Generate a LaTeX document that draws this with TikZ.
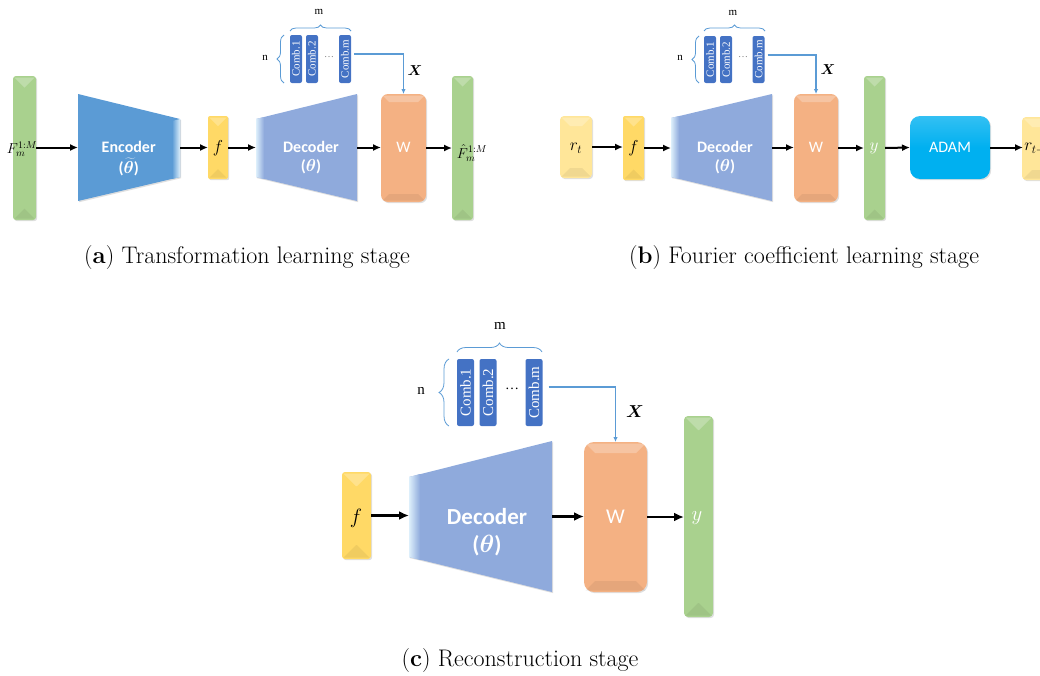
\documentclass[tikz,border=0pt]{standalone}
\usepackage{bm}
\usepackage{fontspec}
\newfontfamily\calib{Carlito}
\newfontfamily\timesf{Liberation Serif}
\usetikzlibrary{arrows.meta,decorations.pathreplacing,shadows,calc}

\definecolor{barG}{HTML}{A9D18E}
\definecolor{fY}{HTML}{FFD966}
\definecolor{rY}{HTML}{FFE699}
\definecolor{encB}{HTML}{5B9BD5}
\definecolor{decB}{HTML}{8FAADC}
\definecolor{wO}{HTML}{F4B183}
\definecolor{adamB}{HTML}{00B0F0}
\definecolor{combB}{HTML}{4472C4}
\definecolor{lineB}{HTML}{5B9BD5}
\definecolor{edgeL}{HTML}{DDEFFB}

\tikzset{
  soft/.style={drop shadow={opacity=0.25,shadow xshift=1.2pt,shadow yshift=-1.2pt}},
  block/.style={soft,inner sep=0pt,outer sep=0pt},
  frame/.style={inner sep=0pt,outer sep=0pt},
  flow/.style={line width=2pt,-{Latex[length=8pt,width=7pt]}},
  bigflow/.style={line width=2.6pt,-{Latex[length=10pt,width=9pt]}},
  xflow/.style={draw=lineB,line width=1.1pt,-{Latex[length=5pt,width=4.5pt]}},
  combbox/.style={fill=combB,rounded corners=2pt,inner sep=0pt},
  combtext/.style={rotate=90,text=white,inner sep=0pt},
  brace/.style={draw=lineB,line width=0.8pt,decorate},
  netlabel/.style={text=white,inner sep=0pt},
  caption/.style={inner sep=0pt,font=\fontsize{24}{28}\selectfont},
}

% light facet along the top edge and a faint dark one along the bottom edge
\newcommand\bevel[2]{%
  \fill[white,opacity=0.25] ($(#1.north west)+(1.5,1.5)$) -- ($(#1.north east)+(-1.5,1.5)$)
      -- ($(#1.north east)+(-#2,#2)$) -- ($(#1.north west)+(#2,#2)$) -- cycle;
  \fill[black,opacity=0.06] ($(#1.south west)+(1.5,-1.5)$) -- ($(#1.south east)+(-1.5,-1.5)$)
      -- ($(#1.south east)+(-#2,-#2)$) -- ($(#1.south west)+(#2,-#2)$) -- cycle;
}

\begin{document}
\begin{tikzpicture}[x=1pt,y=-1pt]
\useasboundingbox (0,0) rectangle (1040,675);
\clip (0,0) rectangle (1040,675);

%% ---------------- (a) transformation learning ----------------
\node[block,fill=barG,rounded corners=3pt,minimum width=23pt,minimum height=144pt] (Fa) at (24.5,148) {};
\bevel{Fa}{11.5}
\node[frame,minimum width=102pt,minimum height=107pt] (enc) at (129,147.5) {};
\fill[encB,soft] (enc.north west) -- ($(enc.north east)+(0,25)$) -- ($(enc.south east)+(0,-24)$) -- (enc.south west) -- cycle;
\shade[left color=encB,right color=edgeL] ($(enc.north east)+(-8,27)$) -- ($(enc.north east)+(0,25)$)
   -- ($(enc.south east)+(0,-24)$) -- ($(enc.south east)+(-8,-22)$) -- cycle;
\node[netlabel,font=\calib\bfseries\fontsize{16}{16}\selectfont] (enct) at (128.7,147) {Encoder};
\node[netlabel,font=\calib\bfseries\fontsize{16}{16}\selectfont] (encp) at (128.7,167) {($\bm{\widetilde{\theta}}$)};

\node[block,fill=fY,rounded corners=2pt,minimum width=20pt,minimum height=63pt] (fa) at (218,147.5) {};
\bevel{fa}{10}
\node[inner sep=0pt,font=\fontsize{16}{16}\selectfont] (fat) at (218,148) {$f$};

\node[frame,minimum width=101pt,minimum height=107pt] (deca) at (306.5,147.5) {};
\fill[decB,soft] ($(deca.north west)+(0,25)$) -- (deca.north east) -- (deca.south east) -- ($(deca.south west)+(0,-24)$) -- cycle;
\shade[right color=decB,left color=edgeL] ($(deca.north west)+(0,25)$) -- ($(deca.north west)+(8,23)$)
   -- ($(deca.south west)+(8,-22)$) -- ($(deca.south west)+(0,-24)$) -- cycle;
\node[netlabel,font=\calib\bfseries\fontsize{16}{16}\selectfont] (decat) at (311,147) {Decoder};
\node[netlabel,font=\calib\bfseries\fontsize{16}{16}\selectfont] (decap) at (311,167) {($\bm{\theta}$)};

\node[block,fill=wO,rounded corners=7pt,minimum width=45pt,minimum height=108pt] (Wa) at (403.5,148) {};
\bevel{Wa}{8}
\node[netlabel,font=\calib\fontsize{16}{16}\selectfont] (Wat) at (403.5,147) {W};

\node[block,fill=barG,rounded corners=3pt,minimum width=21pt,minimum height=144pt] (Fha) at (462.5,148) {};
\bevel{Fha}{10.5}

\node[inner sep=0pt,font=\fontsize{14.5}{14.5}\selectfont] (Fat) at (22,149) {$F_m^{1:M}$};
\node[inner sep=0pt,font=\fontsize{14.5}{14.5}\selectfont] (Fhat) at (472,153) {$\hat{F}_m^{1:M}$};

\draw[flow] (Fa.east |- enc.west) -- (enc.west);
\draw[flow] (enc.east) -- (fa.west);
\draw[flow] (fa.east) -- (deca.west);
\draw[flow] (deca.east) -- (Wa.west |- deca.east);
\draw[flow] (Wa.east) -- (Fha.west);

\node[combbox,minimum width=12pt,minimum height=48pt] (c1a) at (296,59) {};
\node[combbox,minimum width=12pt,minimum height=48pt] (c2a) at (312,59) {};
\node[combbox,minimum width=12pt,minimum height=48pt] (cma) at (345,59) {};
\node[combtext,font=\timesf\fontsize{11}{11}\selectfont] (c1at) at (c1a) {Comb.1};
\node[combtext,font=\timesf\fontsize{11}{11}\selectfont] (c2at) at (c2a) {Comb.2};
\node[combtext,font=\timesf\fontsize{11}{11}\selectfont] (cmat) at (cma) {Comb.m};
\node[inner sep=0pt,text=gray,font=\timesf\fontsize{10}{10}\selectfont] (dotsa) at (329,57) {\dots};
\draw[brace,decoration={brace,amplitude=7pt}] (284,83) -- (284,35);
\draw[brace,decoration={brace,amplitude=6pt}] (290,31) -- (351,31);
\node[inner sep=0pt,font=\timesf\fontsize{11}{11}\selectfont] (na) at (265,58) {n};
\node[inner sep=0pt,font=\timesf\fontsize{11}{11}\selectfont] (ma) at (319,12) {m};
\coordinate (xa) at ($(cma.east)+(3,-5)$);
\draw[xflow] (xa) -| (Wa.north);
\node[inner sep=0pt,font=\fontsize{14}{14}\selectfont] (Xa) at (415,71) {$\bm{X}$};

\node[caption] (capa) at (247,258) {(\textbf{a}) Transformation learning stage};

%% ---------------- (b) Fourier coefficient learning ----------------
\node[block,fill=rY,rounded corners=4pt,minimum width=32pt,minimum height=62pt] (rt) at (576,147) {};
\bevel{rt}{10}
\node[inner sep=0pt,font=\fontsize{17}{17}\selectfont] (rtt) at (576,148) {$r_t$};

\node[block,fill=fY,rounded corners=2pt,minimum width=21pt,minimum height=64pt] (fb) at (633.5,148) {};
\bevel{fb}{10.5}
\node[inner sep=0pt,font=\fontsize{16}{16}\selectfont] (fbt) at (633.5,148) {$f$};

\node[frame,minimum width=101pt,minimum height=107pt] (decb) at (721.5,147.5) {};
\fill[decB,soft] ($(decb.north west)+(0,24)$) -- (decb.north east) -- (decb.south east) -- ($(decb.south west)+(0,-24)$) -- cycle;
\shade[right color=decB,left color=edgeL] ($(decb.north west)+(0,24)$) -- ($(decb.north west)+(8,22)$)
   -- ($(decb.south west)+(8,-22)$) -- ($(decb.south west)+(0,-24)$) -- cycle;
\node[netlabel,font=\calib\bfseries\fontsize{16}{16}\selectfont] (decbt) at (725,147) {Decoder};
\node[netlabel,font=\calib\bfseries\fontsize{16}{16}\selectfont] (decbp) at (725,167) {($\bm{\theta}$)};

\node[block,fill=wO,rounded corners=7pt,minimum width=44pt,minimum height=108pt] (Wb) at (816,148) {};
\bevel{Wb}{8}
\node[netlabel,font=\calib\fontsize{16}{16}\selectfont] (Wbt) at (816,147) {W};

\node[block,fill=barG,rounded corners=3pt,minimum width=21pt,minimum height=144pt] (yb) at (874.5,148) {};
\bevel{yb}{10.5}
\node[inner sep=0pt,text=white,font=\fontsize{17}{17}\selectfont] (ybt) at (874,148) {$y$};

\node[block,top color=adamB!80!white,bottom color=adamB,middle color=adamB,rounded corners=10pt,minimum width=80pt,minimum height=63pt] (adam) at (950,147.5) {};
\node[netlabel,font=\calib\fontsize{16}{16}\selectfont] (adamt) at (950,147.5) {ADAM};

\node[block,fill=rY,rounded corners=4pt,minimum width=32pt,minimum height=63pt] (rt1) at (1038,148.5) {};
\bevel{rt1}{10}
\node[inner sep=0pt,font=\fontsize{17}{17}\selectfont] (rt1t) at (1038,149) {$r_{t+1}$};

\draw[flow] (rt.east) -- (fb.west |- rt.east);
\draw[flow] (fb.east) -- (decb.west |- fb.east);
\draw[flow] (decb.east) -- (Wb.west |- decb.east);
\draw[flow] (Wb.east) -- (yb.west);
\draw[flow] (yb.east) -- (adam.west);
\draw[flow] (adam.east) -- ($(rt1.west |- adam.east)+(1,0)$);

\node[combbox,minimum width=12pt,minimum height=47pt] (c1b) at (710,59.5) {};
\node[combbox,minimum width=12pt,minimum height=47pt] (c2b) at (726,59.5) {};
\node[combbox,minimum width=12pt,minimum height=47pt] (cmb) at (758.5,59.5) {};
\node[combtext,font=\timesf\fontsize{11}{11}\selectfont] (c1bt) at (c1b) {Comb.1};
\node[combtext,font=\timesf\fontsize{11}{11}\selectfont] (c2bt) at (c2b) {Comb.2};
\node[combtext,font=\timesf\fontsize{11}{11}\selectfont] (cmbt) at (cmb) {Comb.m};
\node[inner sep=0pt,text=gray,font=\timesf\fontsize{10}{10}\selectfont] (dotsb) at (743,57) {\dots};
\draw[brace,decoration={brace,amplitude=7pt}] (699,83) -- (699,36);
\draw[brace,decoration={brace,amplitude=6pt}] (704,31) -- (765,31);
\node[inner sep=0pt,font=\timesf\fontsize{11}{11}\selectfont] (nb) at (680,58) {n};
\node[inner sep=0pt,font=\timesf\fontsize{11}{11}\selectfont] (mb) at (733,13) {m};
\coordinate (xb) at ($(cmb.east)+(3,-4.5)$);
\draw[xflow] (xb) -| (Wb.north);
\node[inner sep=0pt,font=\fontsize{14}{14}\selectfont] (Xb) at (828,70) {$\bm{X}$};

\node[caption] (capb) at (804,258) {(\textbf{b}) Fourier coefficient learning stage};

%% ---------------- (c) reconstruction ----------------
\node[block,fill=fY,rounded corners=3pt,minimum width=29pt,minimum height=87pt] (fc) at (356.5,515.5) {};
\bevel{fc}{14}
\node[inner sep=0pt,font=\fontsize{20}{20}\selectfont] (fct) at (356,518) {$f$};

\node[frame,minimum width=143pt,minimum height=151pt] (decc) at (480.5,516.5) {};
\fill[decB,soft] ($(decc.north west)+(0,36)$) -- (decc.north east) -- (decc.south east) -- ($(decc.south west)+(0,-35)$) -- cycle;
\shade[right color=decB,left color=edgeL] ($(decc.north west)+(0,36)$) -- ($(decc.north west)+(11,33)$)
   -- ($(decc.south west)+(11,-32)$) -- ($(decc.south west)+(0,-35)$) -- cycle;
\node[netlabel,font=\calib\bfseries\fontsize{23}{23}\selectfont] (decct) at (487,517) {Decoder};
\node[netlabel,font=\calib\bfseries\fontsize{23}{23}\selectfont] (deccp) at (487,546) {($\bm{\theta}$)};

\node[block,fill=wO,rounded corners=10pt,minimum width=63pt,minimum height=150pt] (Wc) at (615.5,517) {};
\bevel{Wc}{11}
\node[netlabel,font=\calib\fontsize{21}{21}\selectfont] (Wct) at (615.5,517) {W};

\node[block,fill=barG,rounded corners=4pt,minimum width=29pt,minimum height=201pt] (yc) at (698.5,516.5) {};
\bevel{yc}{14}
\node[inner sep=0pt,text=white,font=\fontsize{22}{22}\selectfont] (yct) at (697,518) {$y$};

\draw[bigflow] (fc.east) -- (decc.west |- fc.east);
\draw[bigflow] (decc.east) -- (Wc.west |- decc.east);
\draw[bigflow] (Wc.east) -- (yc.west |- Wc.east);

\node[combbox,minimum width=17pt,minimum height=67pt] (c1c) at (465.5,392.5) {};
\node[combbox,minimum width=17pt,minimum height=67pt] (c2c) at (488,392.5) {};
\node[combbox,minimum width=17pt,minimum height=67pt] (cmc) at (534,392.5) {};
\node[combtext,font=\timesf\fontsize{15}{15}\selectfont] (c1ct) at (c1c) {Comb.1};
\node[combtext,font=\timesf\fontsize{15}{15}\selectfont] (c2ct) at (c2c) {Comb.2};
\node[combtext,font=\timesf\fontsize{15}{15}\selectfont] (cmct) at (cmc) {Comb.m};
\node[inner sep=0pt,font=\timesf\fontsize{14}{14}\selectfont] (dotsc) at (512,389) {\dots};
\draw[brace,decoration={brace,amplitude=10pt}] (449,426) -- (449,359);
\draw[brace,decoration={brace,amplitude=9pt}] (457,352) -- (542,352);
\node[inner sep=0pt,font=\timesf\fontsize{15}{15}\selectfont] (nc) at (421,391) {n};
\node[inner sep=0pt,font=\timesf\fontsize{15}{15}\selectfont] (mc) at (500,326) {m};
\coordinate (xc) at ($(cmc.east)+(6,-5.5)$);
\draw[xflow] (xc) -| (Wc.north);
\node[inner sep=0pt,font=\fontsize{19}{19}\selectfont] (Xc) at (635,412) {$\bm{X}$};

\node[caption] (capc) at (520,660) {(\textbf{c}) Reconstruction stage};
\end{tikzpicture}
\end{document}
